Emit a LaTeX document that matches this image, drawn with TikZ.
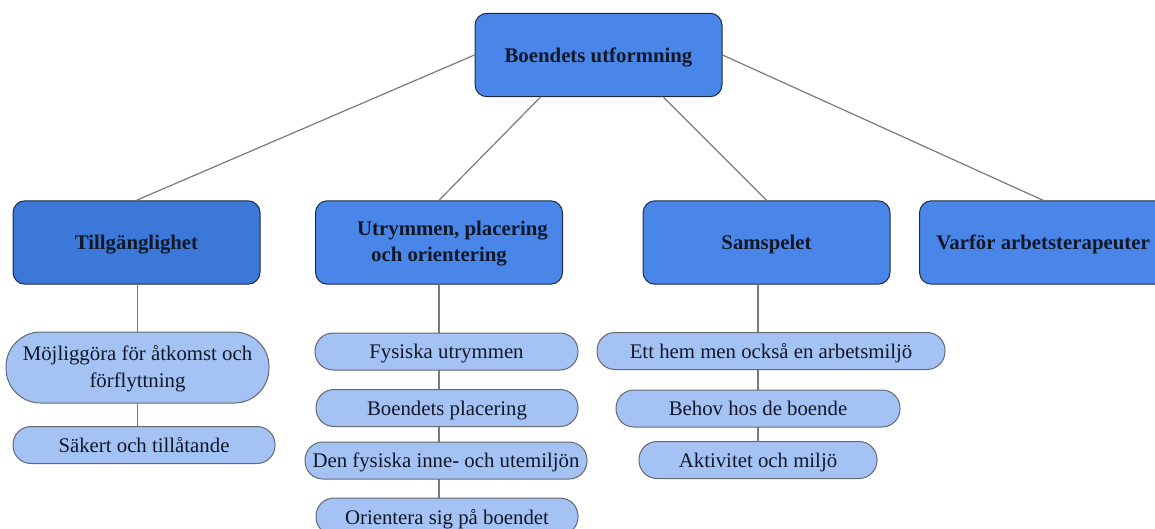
\documentclass[tikz,border=0pt]{standalone}
\usepackage{fontspec}
\setmainfont{Liberation Serif}
\usetikzlibrary{backgrounds}
\definecolor{mainblue}{HTML}{4A86E8}
\definecolor{darkblue}{HTML}{3C78D8}
\definecolor{lightblue}{HTML}{A4C2F4}
\definecolor{boxline}{HTML}{1F2A44}
\definecolor{pillline}{HTML}{64686F}
\definecolor{linkgray}{HTML}{7A7A7A}
\definecolor{inktext}{HTML}{101828}
\newcommand{\HeadFont}{\fontsize{15.6}{19.5}\selectfont\bfseries}
\newcommand{\ItemFont}{\fontsize{15.6}{20}\selectfont}
\begin{document}
\begin{tikzpicture}[x=0.75pt,y=-0.75pt,
  head/.style={draw=boxline,line width=0.75pt,fill=mainblue,rounded corners=9pt,
    minimum width=185.25pt,minimum height=62.6pt,inner sep=0pt,align=center,
    text depth=-2.5pt,text=inktext,font=\HeadFont},
  pill/.style={draw=pillline,line width=0.75pt,fill=lightblue,rounded corners=13.5pt,
    minimum height=27.75pt,inner sep=0pt,align=center,
    text depth=-2.5pt,text=inktext,font=\ItemFont},
  link/.style={draw=linkgray,line width=0.9pt}]
\useasboundingbox (0,0) rectangle (1155,528);
\node[head] (top) at (598.5,55) {Boendets utformning};
\node[head,fill=darkblue] (till) at (136.5,242.5) {Tillgänglighet};
\node[head,text depth=2pt] (utr) at (439,242.5) {\hspace*{1.3em}Utrymmen, placering\\och orientering};
\node[head] (sams) at (766.5,242.5) {Samspelet};
\node[head] (varf) at (1043,242.5) {Varför arbetsterapeuter};

\node[pill,minimum width=197.25pt,minimum height=53.25pt,rounded corners=26pt,text depth=2pt]
     (till-1) at (137.5,367.5) {Möjliggöra för åtkomst och\\förflyttning};
\node[pill,minimum width=196.5pt] (till-2) at (144,445) {Säkert och tillåtande};

\node[pill,minimum width=197.25pt] (utr-1) at (446.5,351.5) {Fysiska utrymmen};
\node[pill,minimum width=196.5pt] (utr-2) at (447,408) {Boendets placering};
\node[pill,minimum width=211.5pt] (utr-3) at (446,460.5) {Den fysiska inne- och utemiljön};
\node[pill,minimum width=196.5pt] (utr-4) at (447,516.5) {Orientera sig på boendet};

\node[pill,minimum width=261pt] (sams-1) at (771,351) {Ett hem men också en arbetsmiljö};
\node[pill,minimum width=213pt] (sams-2) at (758,408.5) {Behov hos de boende};
\node[pill,minimum width=178.5pt] (sams-3) at (758,460) {Aktivitet och miljö};

\path[link] (top.west) edge (till.north);
\path[link] (top.216) edge (utr.north);
\path[link] (top.327) edge (sams.north);
\path[link] (top.east) edge (varf.north);

\begin{scope}[on background layer]
\draw[link] (till-1 |- till.south) -- (till-1 |- till-2.north);
\draw[link] (utr.south) -- (utr.south |- utr-4.north);
\draw[link] (sams-2 |- sams.south) -- (sams-3.north);
\end{scope}
\end{tikzpicture}
\end{document}
